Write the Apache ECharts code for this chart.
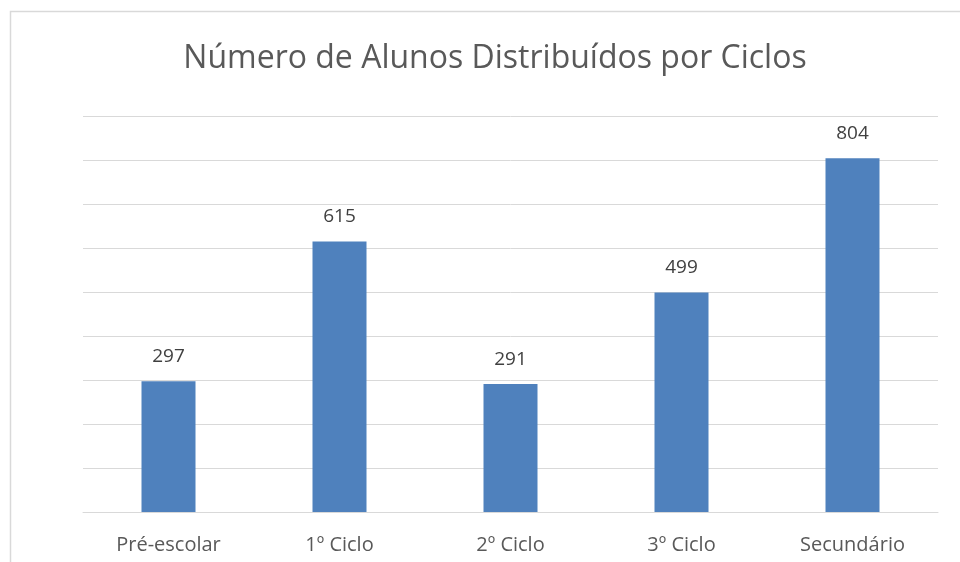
<!DOCTYPE html>
<html>
<head>
<meta charset="utf-8">
<title>Número de Alunos Distribuídos por Ciclos</title>
<script src="https://cdn.jsdelivr.net/npm/echarts@6/dist/echarts.min.js"></script>
<style>
  html, body { margin: 0; padding: 0; background: #fff; }
  #chart { width: 960px; height: 562px; }
</style>
</head>
<body>
<div id="chart"></div>
<script>
// chart data
const categories = ['Pré-escolar', '1º Ciclo', '2º Ciclo', '3º Ciclo', 'Secundário'];
const alunos = [297, 615, 291, 499, 804];

const FONT = '"Open Sans", "Noto Sans", sans-serif';

const chart = echarts.init(document.getElementById('chart'), null, { renderer: 'canvas' });

chart.setOption({
  animation: false,
  backgroundColor: '#fff',
  textStyle: { fontFamily: FONT },
  // light outer frame, as in the spreadsheet export
  graphic: [{
    type: 'rect',
    shape: { x: 10.5, y: 11.5, width: 980, height: 600 },
    style: { fill: 'none', stroke: '#d9d9d9', lineWidth: 1.5 },
    silent: true,
  }],
  title: {
    text: 'Número de Alunos Distribuídos por Ciclos',
    left: 490,
    textAlign: 'center',
    top: 38,
    textStyle: { fontFamily: FONT, fontSize: 32, fontWeight: 'normal', color: '#595959' },
  },
  grid: { left: 83, right: 22, top: 116, bottom: 50 },
  xAxis: {
    type: 'category',
    data: categories,
    axisTick: { show: false },
    axisLine: { lineStyle: { color: '#d9d9d9', width: 1 } },
    axisLabel: { color: '#595959', fontSize: 20, margin: 23, fontFamily: FONT },
  },
  yAxis: {
    type: 'value',
    min: 0,
    max: 900,
    interval: 100,
    axisLabel: { show: false },
    axisLine: { show: false },
    axisTick: { show: false },
    splitLine: { lineStyle: { color: '#d9d9d9', width: 1 } },
  },
  series: [{
    type: 'bar',
    data: alunos,
    barWidth: 54,
    itemStyle: { color: '#4f81bd' },
    label: {
      show: true,
      position: 'top',
      distance: 15,
      color: '#404040',
      fontSize: 19,
      fontFamily: FONT,
    },
  }],
});
</script>
</body>
</html>
